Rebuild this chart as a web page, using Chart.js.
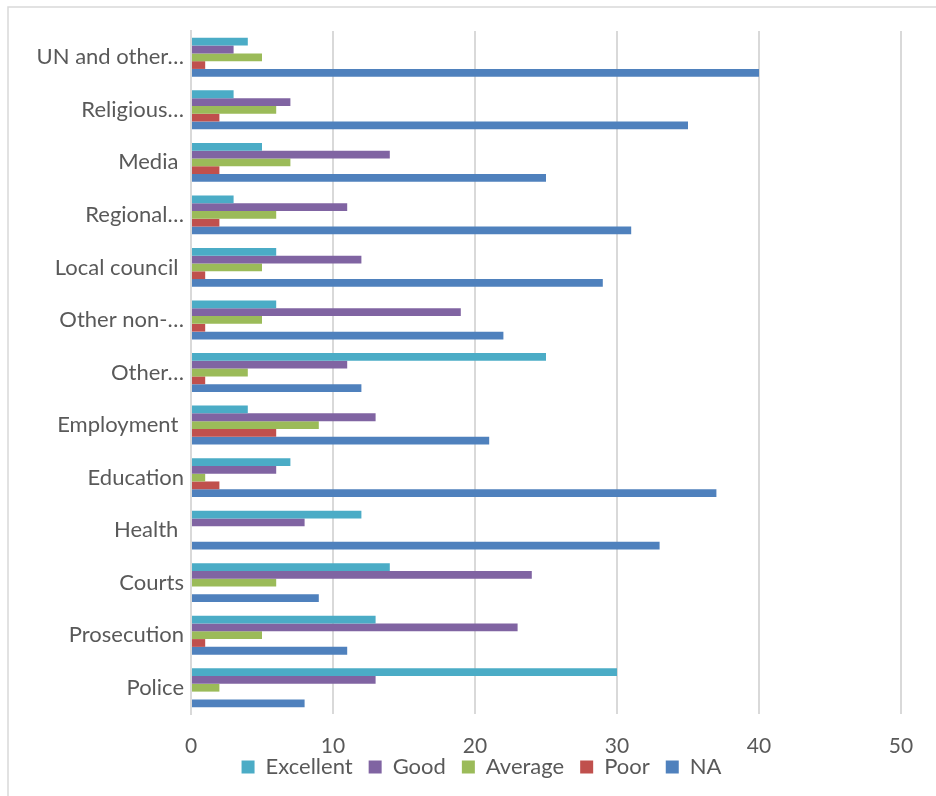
<!DOCTYPE html>
<html>
<head>
<meta charset="utf-8">
<script src="https://cdn.jsdelivr.net/npm/chart.js@4"></script>
<style>
  html, body { margin: 0; padding: 0; background: #fff; }
  #wrap { width: 936px; height: 796px; position: relative; }
</style>
</head>
<body>
<div id="wrap"><canvas id="chart" width="936" height="796"></canvas></div>
<script>
// categories, top to bottom
const categories = [
  "UN and other…", "Religious…", "Media ", "Regional…", "Local council ",
  "Other non-…", "Other…", "Employment ", "Education", "Health ",
  "Courts", "Prosecution", "Police"
];

// series values
const excellent = [4, 3, 5, 3, 6, 6, 25, 4, 7, 12, 14, 13, 30];
const good      = [3, 7, 14, 11, 12, 19, 11, 13, 6, 8, 24, 23, 13];
const average   = [5, 6, 7, 6, 5, 5, 4, 9, 1, 0, 6, 5, 2];
const poor      = [1, 2, 2, 2, 1, 1, 1, 6, 2, 0, 0, 1, 0];
const na        = [40, 35, 25, 31, 29, 22, 12, 21, 37, 33, 9, 11, 8];

const xTicks = [0, 10, 20, 30, 40, 50];

const textColor = "#595959";
const gridColor = "#d9d9d9";
const fontFamily = "Lato, 'Liberation Sans', sans-serif";

// light frame round the whole chart, like the office export
const framePlugin = {
  id: "frame",
  beforeDraw(chart) {
    const ctx = chart.ctx;
    ctx.save();
    ctx.fillStyle = "#fff";
    ctx.fillRect(0, 0, chart.width, chart.height);
    ctx.strokeStyle = "#d9d9d9";
    ctx.lineWidth = 1.5;
    ctx.strokeRect(8, 7, chart.width, chart.height);
    ctx.restore();
  },
};

// the legend sits tight under the tick labels and a bit right of centre
const legendShift = {
  id: "legendShift",
  afterLayout(chart) {
    const lg = chart.legend;
    lg.top -= 20;
    lg.bottom -= 20;
    lg.left += 31;
    lg.right += 31;
  },
};

new Chart(document.getElementById("chart"), {
  type: "bar",
  data: {
    labels: categories,
    datasets: [
      { label: "Excellent", data: excellent, backgroundColor: "#4BACC6" },
      { label: "Good", data: good, backgroundColor: "#8064A2" },
      { label: "Average", data: average, backgroundColor: "#9BBB59" },
      { label: "Poor", data: poor, backgroundColor: "#C0504D" },
      { label: "NA", data: na, backgroundColor: "#4F81BD" },
    ],
  },
  options: {
    indexAxis: "y",
    responsive: false,
    animation: false,
    layout: { padding: { top: 31, right: 35, bottom: -12, left: 0 } },
    datasets: {
      bar: { categoryPercentage: 0.74, barPercentage: 1.0 },
    },
    plugins: {
      legend: {
        position: "bottom",
        labels: {
          color: textColor,
          font: { family: fontFamily, size: 22 },
          boxWidth: 13,
          boxHeight: 13,
          padding: 16,
        },
      },
      tooltip: { enabled: false },
    },
    scales: {
      x: {
        min: 0,
        max: 50,
        afterBuildTicks: (scale) => {
          scale.ticks = xTicks.map((v) => ({ value: v }));
        },
        afterFit: (scale) => {
          scale.height = 46;
        },
        grid: { color: gridColor, lineWidth: 2, drawTicks: false },
        border: { display: false },
        ticks: {
          color: textColor,
          font: { family: fontFamily, size: 21 },
          padding: 20,
        },
      },
      y: {
        afterFit: (scale) => {
          scale.width = 191;
        },
        grid: { display: false, drawTicks: false },
        border: { color: gridColor, width: 2 },
        ticks: {
          color: textColor,
          font: { family: fontFamily, size: 22 },
          padding: 7,
        },
      },
    },
  },
  plugins: [framePlugin, legendShift],
});
</script>
</body>
</html>
